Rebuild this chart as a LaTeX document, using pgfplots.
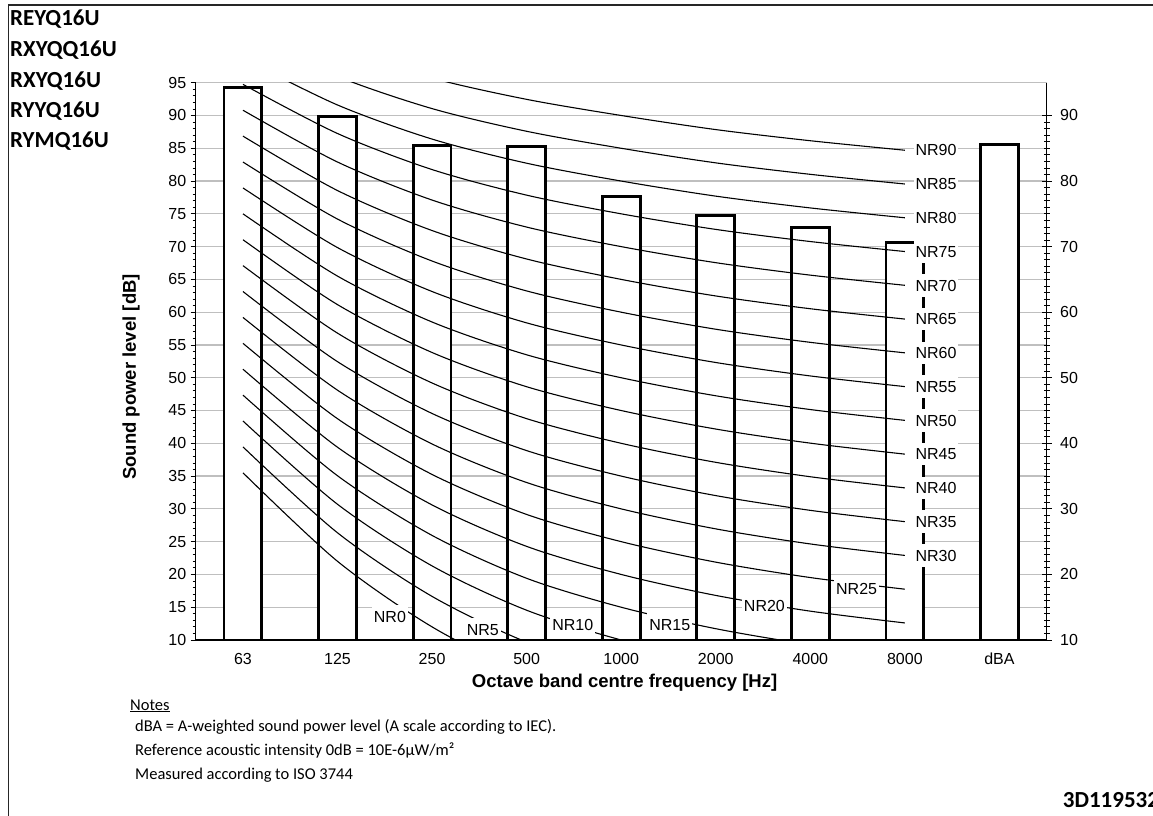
\documentclass[border=0pt]{standalone}
\usepackage{pgfplots}
\usepackage{pgfplotstable}
\pgfplotsset{compat=1.18}
\usepackage{fontspec}
\setmainfont{Liberation Sans}
\newfontfamily\calibri{Carlito}

\tikzset{nr/.style={fill=white, inner xsep=2pt, inner ysep=5.5pt, text height=11.5pt, text depth=0pt, font=\fontsize{16}{19}\selectfont}}

\pgfplotstableread{
f  n0    n5     n10   n15    n20   n25    n30   n35    n40   n45    n50   n55    n60   n65    n70   n75    n80   n85    n90
0  35.5  39.45  43.4  47.35  51.3  55.25  59.2  63.15  67.1  71.05  75    78.95  82.9  86.85  90.8  94.75  98.7  102.65 106.6
1  22    26.35  30.7  35.05  39.4  43.75  48.1  52.45  56.8  61.15  65.5  69.85  74.2  78.55  82.9  87.25  91.6  95.95  100.3
2  12    16.65  21.3  25.95  30.6  35.25  39.9  44.55  49.2  53.85  58.5  63.15  67.8  72.45  77.1  81.75  86.4  91.05  95.7
3  4.8   9.67   14.54 19.41  24.28 29.15  34.02 38.89  43.76 48.63  53.5  58.37  63.24 68.11  72.98 77.85  82.72 87.59  92.46
4  0     5      10    15     20    25     30    35     40    45     50    55     60    65     70    75     80    85     90
5  -3.5  1.575  6.65  11.725 16.8  21.875 26.95 32.025 37.1  42.175 47.25 52.325 57.4  62.475 67.55 72.625 77.7  82.775 87.85
6  -6.1  -0.975 4.15  9.275  14.4  19.525 24.65 29.775 34.9  40.025 45.15 50.275 55.4  60.525 65.65 70.775 75.9  81.025 86.15
7  -8    -2.85  2.3   7.45   12.6  17.75  22.9  28.05  33.2  38.35  43.5  48.65  53.8  58.95  64.1  69.25  74.4  79.55  84.7
}\nrcurves

\pgfplotstableread{
x  y
0  94.3
1  89.8
2  85.4
3  85.3
4  77.6
5  74.8
6  72.9
7  70.6
8  85.6
}\bars

\begin{document}
\begin{tikzpicture}[x=1pt,y=1pt]

\begin{axis}[
  scale only axis, width=851pt, height=557.3pt,
  xmin=-0.5, xmax=8.5, ymin=10, ymax=95,
  axis x line=bottom, axis y line=left,
  axis line style={-, black, line width=1.3pt},
  xtick={0,...,8},
  xticklabels={63,125,250,500,1000,2000,4000,8000,dBA},
  x tick style={draw=none},
  ytick={10,15,...,95}, minor y tick num=4,
  y tick style={black, line width=0.8pt},
  tick align=outside,
  major tick length=5pt, minor tick length=3pt,
  ymajorgrids,
  major grid style={gray!50, line width=1.2pt},
  ticklabel style={font=\fontsize{16}{19}\selectfont},
  /pgf/number format/assume math mode=true,
  yticklabel style={xshift=-1pt},
  xticklabel style={text height=11.5pt, text depth=0pt, anchor=north, yshift=-4pt},
  xlabel={Octave band centre frequency [Hz]},
  ylabel={Sound power level [dB]},
  label style={font=\bfseries\fontsize{18.5}{22}\selectfont},
  xlabel style={at={(axis description cs:0.504,-0.077)}, anchor=center},
  ylabel style={at={(axis description cs:-0.076,0.472)}, anchor=center},
]
\addplot[ybar, bar width=0.4, fill=white, draw=black, line width=2.8pt] table[x=x, y=y] {\bars};

\pgfplotsinvokeforeach{0,5,...,90}{
  \addplot[smooth, black, line width=1.1pt] table[x=f, y=n#1] {\nrcurves};
}

\node[nr, anchor=center] at (axis cs:1.554,13.58) {NR0};
\node[nr, anchor=center] at (axis cs:2.537,11.63) {NR5};
\node[nr, anchor=center] at (axis cs:3.488,12.40) {NR10};
\node[nr, anchor=center] at (axis cs:4.514,12.40) {NR15};
\node[nr, anchor=center] at (axis cs:5.515,15.18) {NR20};
\node[nr, anchor=center] at (axis cs:6.49,17.83) {NR25};
\node[nr, anchor=west] at (axis cs:7.09,22.9) {NR30};
\node[nr, anchor=west] at (axis cs:7.09,28.05) {NR35};
\node[nr, anchor=west] at (axis cs:7.09,33.2) {NR40};
\node[nr, anchor=west] at (axis cs:7.09,38.35) {NR45};
\node[nr, anchor=west] at (axis cs:7.09,43.5) {NR50};
\node[nr, anchor=west] at (axis cs:7.09,48.65) {NR55};
\node[nr, anchor=west] at (axis cs:7.09,53.8) {NR60};
\node[nr, anchor=west] at (axis cs:7.09,58.95) {NR65};
\node[nr, anchor=west] at (axis cs:7.09,64.1) {NR70};
\node[nr, anchor=west] at (axis cs:7.09,69.25) {NR75};
\node[nr, anchor=west] at (axis cs:7.09,74.4) {NR80};
\node[nr, anchor=west] at (axis cs:7.09,79.55) {NR85};
\node[nr, anchor=west] at (axis cs:7.09,84.7) {NR90};
\end{axis}

\begin{axis}[
  scale only axis, width=851pt, height=557.3pt,
  xmin=-0.5, xmax=8.5, ymin=10, ymax=95,
  axis x line=bottom, axis y line=right,
  axis line style={-, black, line width=1.3pt},
  xtick=\empty,
  ytick={10,20,...,90}, minor y tick num=9,
  tick align=center,
  major tick length=10pt, minor tick length=6pt,
  y tick style={black, line width=0.8pt},
  ticklabel style={font=\fontsize{16}{19}\selectfont},
  /pgf/number format/assume math mode=true,
  yticklabel style={xshift=5pt},
]
\addplot[draw=none] coordinates {(0,10)};
\end{axis}

\begin{scope}[shift={(-195.7,-175)}]
\draw[line width=1.3pt, black!85] (8.3,-5) -- (8.3,810) -- (1160,810);
\begin{scope}[every node/.style={anchor=base west, inner sep=0pt, font=\calibri\bfseries\fontsize{23}{27}\selectfont}]
\node at (10,789) {REYQ16U};
\node at (10,758) {RXYQQ16U};
\node at (10,727.7) {RXYQ16U};
\node at (10,697) {RYYQ16U};
\node at (10,667) {RYMQ16U};
\node at (1062.7,7.3) {3D119532};
\end{scope}
\begin{scope}[every node/.style={anchor=base west, inner sep=0pt, font=\calibri\fontsize{16.5}{19}\selectfont}]
\node at (130,105) {\underline{Notes}};
\node at (135,83.3) {dBA = A-weighted sound power level (A scale according to IEC).};
\node at (135,60) {Reference acoustic intensity 0dB = 10E-6µW/m²};
\node at (135,36) {Measured according to ISO 3744};
\end{scope}
\end{scope}

\pgfresetboundingbox
\path[use as bounding box] (-195.7,-175) rectangle (957.3,640);
\end{tikzpicture}
\end{document}
